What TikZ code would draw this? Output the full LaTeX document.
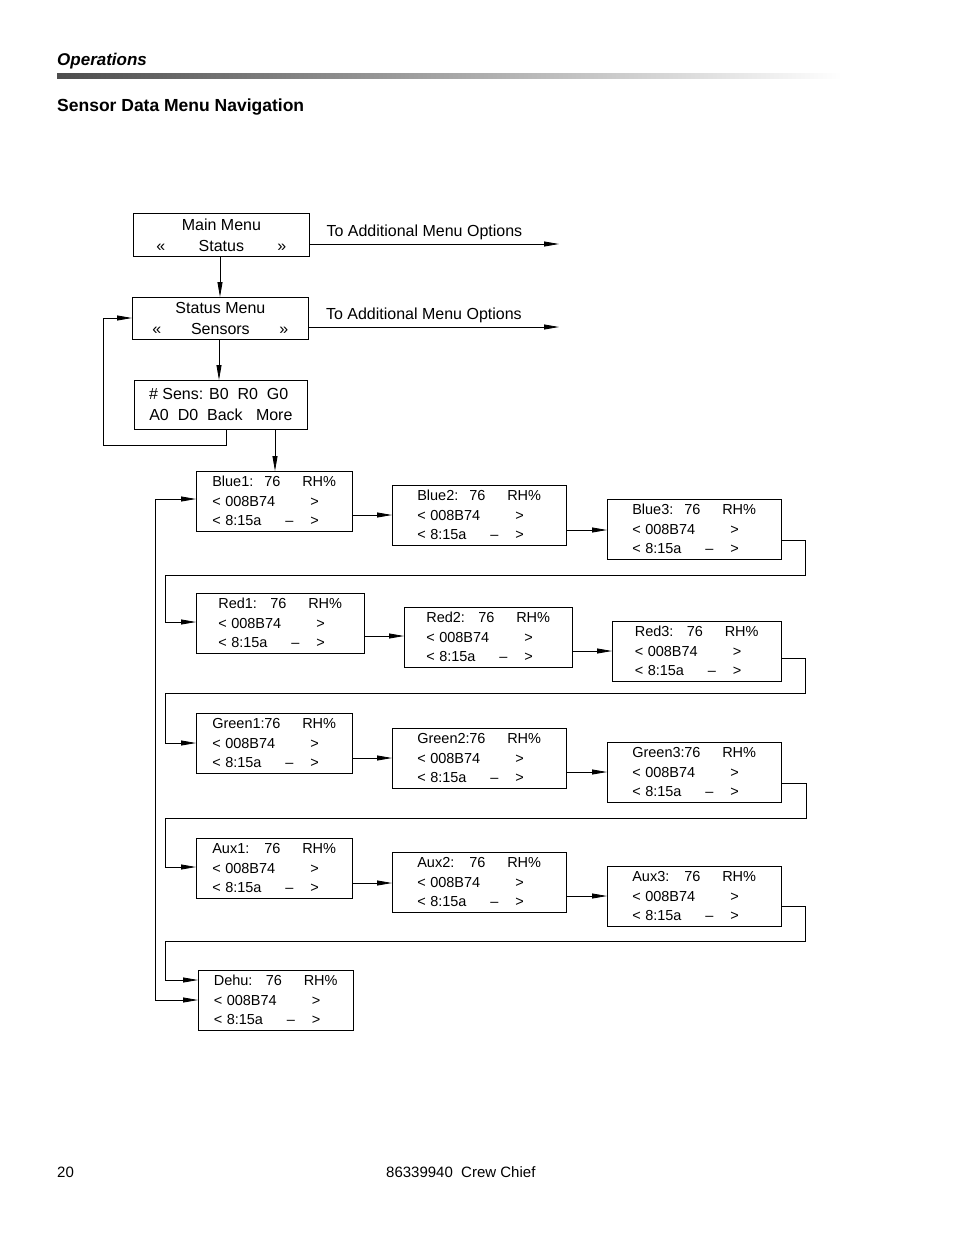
\documentclass[tikz,border=0pt]{standalone}
\usepackage{fontspec}
\setmainfont{Liberation Sans}
\usetikzlibrary{arrows.meta,positioning}

\tikzset{
  menu/.style={draw, thick, anchor=north west, inner sep=0pt, align=center,
    font=\fontsize{16}{21}\selectfont},
  sensor/.style={draw, anchor=north west, inner sep=0pt, align=left, minimum height=60pt,
    font=\fontsize{14.5}{19.5}\selectfont},
  link/.style={-{Triangle[length=15pt,width=5pt]}, line width=0.8pt},
  plain/.style={line width=0.8pt},
}
% sensor screen: name, x, y, width, label
\newcommand{\sensorbox}[5]{%
  \node[sensor, minimum width=#4pt] (#1) at (#2,#3) {%
    \makebox[52pt][l]{#5:}\makebox[38pt][l]{76}RH\%\\
    \makebox[13pt][l]{<}\makebox[85pt][l]{008B74}>\\
    \makebox[13pt][l]{<}\makebox[60pt][l]{8:15a}\makebox[25pt][l]{--}>};}

\begin{document}
\begin{tikzpicture}[x=1pt,y=-1pt]
  \useasboundingbox (0,0) rectangle (954,1235);
  % Page header
  \node[anchor=west, font=\fontsize{17}{20}\selectfont\bfseries\itshape, inner sep=0pt] (head) at (57,61) {Operations};
  \shade[left color=black!70, right color=white] (57,73) rectangle (842,78);
  \node[anchor=west, font=\fontsize{17.5}{20}\selectfont\bfseries, inner sep=0pt] (title) at (57,107) {Sensor Data Menu Navigation};

  % Menus
  \node[menu, minimum width=176pt, minimum height=43pt] (mainmenu) at (133,213) {Main Menu\\
    \makebox[40pt][l]{<<}\makebox[50pt]{Status}\makebox[40pt][r]{>>}};
  \node[menu, thin, line width=0.8pt, minimum width=176pt, minimum height=42pt] (statusmenu) at (132,297) {Status Menu\\
    \makebox[38pt][l]{<<}\makebox[60pt]{Sensors}\makebox[38pt][r]{>>}};
  \node[menu, thin, line width=0.8pt, minimum width=173pt, minimum height=49pt] (sensmenu) at (134,380) {\# Sens: B0~~R0~~G0~~\\
    A0~~D0~~Back~~~More};

  % Sensor screens
  \sensorbox{blue1}{196}{471}{156}{Blue1}
  \sensorbox{blue2}{392}{485}{174}{Blue2}
  \sensorbox{blue3}{607}{499}{174}{Blue3}
  \sensorbox{red1}{196}{593}{168}{Red1}
  \sensorbox{red2}{404}{607}{168}{Red2}
  \sensorbox{red3}{612}{621}{169}{Red3}
  \sensorbox{green1}{196}{713}{156}{Green1}
  \sensorbox{green2}{392}{728}{174}{Green2}
  \sensorbox{green3}{607}{742}{174}{Green3}
  \sensorbox{aux1}{196}{838}{156}{Aux1}
  \sensorbox{aux2}{392}{852}{174}{Aux2}
  \sensorbox{aux3}{607}{866}{174}{Aux3}
  \sensorbox{dehu}{198}{970}{155}{Dehu}
  \draw[thick] (dehu.north west) rectangle (dehu.south east);

  % Free ends
  \coordinate (more1) at (559,244);
  \coordinate (more2) at (559,327);

  % Arrows
  \draw[link] (mainmenu.east |- 0,244) -- node[above, font=\fontsize{16}{18}\selectfont, xshift=-10pt] (opt1) {To Additional Menu Options} (more1);
  \draw[link] (statusmenu.east |- 0,327) -- node[above, font=\fontsize{16}{18}\selectfont, xshift=-10pt] (opt2) {To Additional Menu Options} (more2);
  \draw[link] (mainmenu.south -| 220,0) -- (statusmenu.north -| 220,0);
  \draw[link] (statusmenu.south -| 219,0) -- (sensmenu.north -| 219,0);
  \draw[link] (sensmenu.south -| 226,0) |- (103,445) |- (statusmenu.west |- 0,318);
  \draw[link] (sensmenu.south -| 275,0) -- (blue1.north -| 275,0);

  \draw[link] (blue1.east |- 0,515) -- (blue2.west |- 0,515);
  \draw[link] (blue2.east |- 0,530) -- (blue3.west |- 0,530);
  \draw[link] (blue3.east |- 0,540) -| (805,575) -| (165,622) -- (red1.west |- 0,622);
  \draw[link] (red1.east |- 0,636) -- (red2.west |- 0,636);
  \draw[link] (red2.east |- 0,651) -- (red3.west |- 0,651);
  \draw[link] (red3.east |- 0,658) -| (805,693) -| (165,743) -- (green1.west |- 0,743);
  \draw[link] (green1.east |- 0,758) -- (green2.west |- 0,758);
  \draw[link] (green2.east |- 0,772) -- (green3.west |- 0,772);
  \draw[link] (green3.east |- 0,783) -| (806,818) -| (165,867) -- (aux1.west |- 0,867);
  \draw[link] (aux1.east |- 0,883) -- (aux2.west |- 0,883);
  \draw[link] (aux2.east |- 0,896) -- (aux3.west |- 0,896);
  \draw[link] (aux3.east |- 0,906) -| (805,941) -| (165,980) -- (dehu.west |- 0,980);
  \draw[link, {Triangle[length=15pt,width=5pt]}-{Triangle[length=15pt,width=5pt]}] (blue1.west |- 0,499) -| (155,1000) -- (dehu.west |- 0,1000);

  % Page footer
  \node[anchor=west, font=\fontsize{15}{18}\selectfont, inner sep=0pt] (pagenum) at (57,1172) {20};
  \node[anchor=west, font=\fontsize{15}{18}\selectfont, inner sep=0pt] (footer) at (386,1172) {86339940~~Crew Chief};
\end{tikzpicture}
\end{document}
